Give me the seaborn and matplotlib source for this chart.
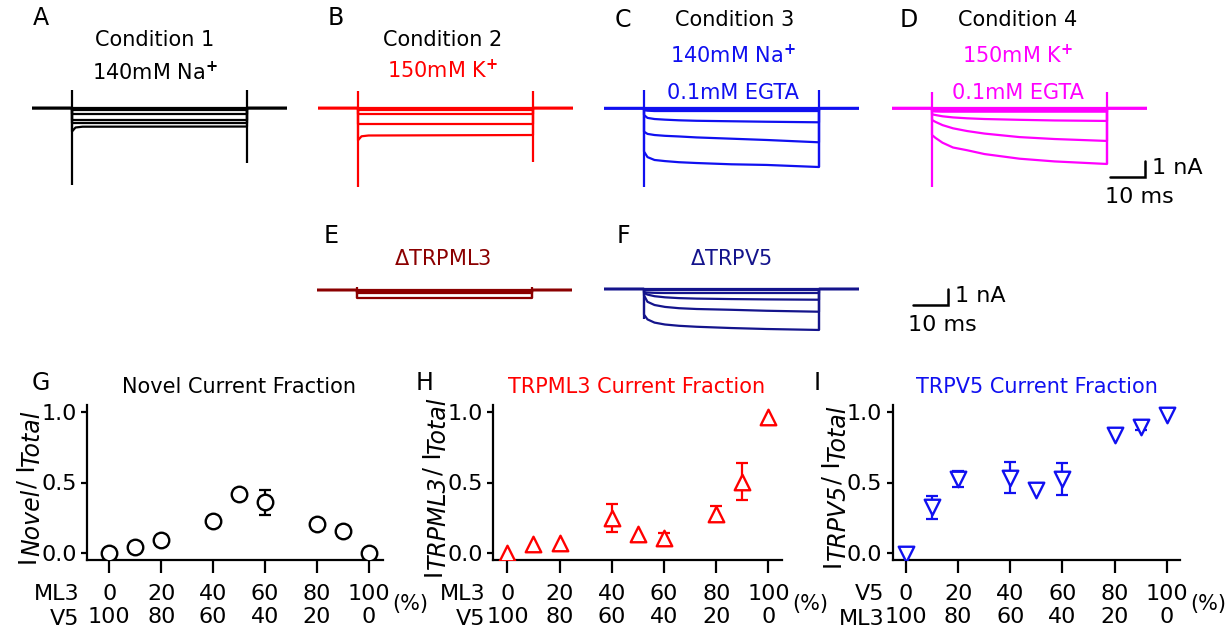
import matplotlib
matplotlib.use('Agg')
import matplotlib.pyplot as plt
import seaborn as sns

sns.set_theme(style='white')
plt.rcParams['font.family'] = ['DejaVu Sans']
plt.rcParams['mathtext.fontset'] = 'dejavusans'
plt.rcParams['text.color'] = 'black'
plt.rcParams['xtick.color'] = 'black'
plt.rcParams['ytick.color'] = 'black'

W, H = 1230, 634

# ---- current traces (nA), sampled at these times (ms) after pulse onset
t_pre, t_post = -11.4, 61.4
t_flat = [0, 1, 3, 50]
t_slow = [0, 1, 3, 6, 10, 15, 25, 35, 50]

cond1_traces = [
    [0.0, 0.0, 0.0, 0.0],
    [-0.06, -0.06, -0.06, -0.06],
    [-0.12, -0.12, -0.12, -0.12],
    [-0.37, -0.37, -0.37, -0.37],
    [-0.73, -0.73, -0.73, -0.73],
    [-0.94, -0.94, -0.94, -0.94],
    [-1.45, -1.2, -1.15, -1.14],
]
cond1_spikes = [(1.13, -4.8), (1.13, -3.4)]

cond2_traces = [
    [0.0, 0.0, 0.0, 0.0],
    [-0.06, -0.06, -0.06, -0.06],
    [-0.12, -0.12, -0.12, -0.12],
    [-0.36, -0.36, -0.36, -0.36],
    [-0.98, -0.98, -0.98, -0.98],
    [-2.0, -1.75, -1.7, -1.67],
]
cond2_spikes = [(1.08, -4.92), (1.08, -3.36)]

cond3_traces = [
    [0.0, 0.0, 0.0, 0.0, 0.0, 0.0, 0.0, 0.0, 0.0],
    [-0.06, -0.06, -0.06, -0.06, -0.06, -0.06, -0.06, -0.06, -0.06],
    [-0.12, -0.15, -0.17, -0.17, -0.17, -0.17, -0.17, -0.17, -0.17],
    [-0.42, -0.6, -0.67, -0.71, -0.75, -0.78, -0.81, -0.84, -0.875],
    [-1.46, -1.6, -1.67, -1.72, -1.76, -1.82, -1.9, -1.98, -2.125],
    [-2.7, -3.05, -3.23, -3.3, -3.37, -3.42, -3.5, -3.54, -3.67],
]
cond3_spikes = [(1.14, -4.92), (1.14, -3.67)]

cond4_traces = [
    [0.0, 0.0, 0.0, 0.0, 0.0, 0.0, 0.0, 0.0, 0.0],
    [-0.06, -0.06, -0.06, -0.06, -0.06, -0.06, -0.06, -0.06, -0.06],
    [-0.12, -0.12, -0.12, -0.12, -0.12, -0.12, -0.12, -0.12, -0.12],
    [-0.18, -0.2, -0.21, -0.21, -0.21, -0.21, -0.21, -0.21, -0.21],
    [-0.375, -0.42, -0.5, -0.57, -0.625, -0.67, -0.72, -0.76, -0.79],
    [-0.73, -0.85, -1.05, -1.25, -1.42, -1.58, -1.8, -1.92, -2.04],
    [-1.67, -1.85, -2.15, -2.45, -2.62, -2.86, -3.15, -3.32, -3.48],
]
cond4_spikes = [(1.02, -4.92), (1.02, -3.48)]

dml3_traces = [
    [0.0, 0.0, 0.0, 0.0],
    [-0.05, -0.05, -0.05, -0.05],
    [-0.1, -0.1, -0.1, -0.1],
    [-0.14, -0.14, -0.14, -0.14],
    [-0.17, -0.17, -0.17, -0.17],
    [-0.52, -0.52, -0.52, -0.52],
]
dml3_spikes = [(0.19, -0.52), (0.19, -0.52)]

dv5_traces = [
    [0.0, 0.0, 0.0, 0.0, 0.0, 0.0, 0.0, 0.0, 0.0],
    [-0.06, -0.06, -0.06, -0.06, -0.06, -0.06, -0.06, -0.06, -0.06],
    [-0.2, -0.22, -0.24, -0.25, -0.25, -0.25, -0.25, -0.25, -0.25],
    [-0.25, -0.35, -0.45, -0.52, -0.57, -0.6, -0.63, -0.65, -0.67],
    [-0.4, -0.8, -1.0, -1.12, -1.2, -1.25, -1.3, -1.36, -1.42],
    [-1.6, -1.9, -2.1, -2.22, -2.3, -2.36, -2.44, -2.5, -2.56],
]
dv5_spikes = [(0.0, -1.9), (0.0, -2.56)]

# ---- current fractions vs. mixing ratio (%)
mix_pct = [0, 10, 20, 40, 50, 60, 80, 90, 100]
novel_frac = [0.0, 0.047, 0.094, 0.228, 0.419, 0.36, 0.205, 0.16, 0.0]
novel_err = [0, 0, 0, 0, 0, 0.09, 0, 0.03, 0]
trpml3_frac = [0.0, 0.064, 0.07, 0.25, 0.136, 0.106, 0.28, 0.506, 0.96]
trpml3_err = [0, 0, 0, 0.1, 0, 0.035, 0.055, 0.13, 0]
trpv5_frac = [-0.005, 0.325, 0.525, 0.534, 0.447, 0.525, 0.835, 0.894, 0.976]
trpv5_err = [0, 0.08, 0.055, 0.11, 0, 0.115, 0, 0.02, 0]
tick_pct = [0, 20, 40, 60, 80, 100]
tick_pct_rev = [100, 80, 60, 40, 20, 0]

fig = plt.figure(figsize=(W / 100, H / 100), dpi=100)
FS = 15
TICK_FS = 16
LW = 1.6
PX_MS, PX_NA = 3.5, 16
Y_TOP, Y_BOT = 1.4, -5.6


def ftext(x, y, s, **kw):
    kw.setdefault('fontsize', FS)
    kw.setdefault('ha', 'center')
    kw.setdefault('va', 'center')
    return fig.text(x / W, 1 - y / H, s, **kw)


def trace_axes(on_px, base_px):
    left = on_px + t_pre * PX_MS
    width = (t_post - t_pre) * PX_MS
    top = base_px - Y_TOP * PX_NA
    height = (Y_TOP - Y_BOT) * PX_NA
    ax = fig.add_axes([left / W, 1 - (top + height) / H, width / W, height / H])
    ax.set_xlim(t_pre, t_post)
    ax.set_ylim(Y_BOT, Y_TOP)
    ax.axis('off')
    return ax


def draw_traces(ax, times, traces, spikes, color):
    for vals in traces:
        t = [t_pre, 0] + list(times) + [times[-1], t_post]
        y = [0, 0] + list(vals) + [0, 0]
        sns.lineplot(x=t, y=y, ax=ax, color=color, lw=LW, sort=False,
                     estimator=None, legend=False)
    (on_top, on_bot), (off_top, off_bot) = spikes
    ax.vlines([0, times[-1]], [on_bot, off_bot], [on_top, off_top],
              color=color, lw=LW)


def scale_bar(ax, t0, y0):
    ax.plot([t0, t0 + 10, t0 + 10], [y0, y0, y0 + 1], color='black',
            lw=1.8, clip_on=False, solid_joinstyle='miter')
    ax.text(t0 + 12.0, y0 + 0.55, '1 nA', fontsize=FS + 1, ha='left', va='center')
    ax.text(t0 - 1.5, y0 - 1.25, '10 ms', fontsize=FS + 1, ha='left', va='center')


def stacked_label(xc, yc, parts, fontsize=17, sub_shift=5):
    # rotated label with full-size, lowered subscripts
    renderer = fig.canvas.get_renderer()
    texts = []
    for s, is_sub in parts:
        t = fig.text(0, 0, s, rotation=90, fontsize=fontsize, ha='left', va='bottom',
                     style='italic' if is_sub else 'normal')
        texts.append((t, is_sub))
    lengths = [t.get_window_extent(renderer).height for t, _ in texts]
    y = yc + sum(lengths) / 2
    for (t, is_sub), length in zip(texts, lengths):
        x = xc + (sub_shift if is_sub else 0)
        t.set_position((x / W, 1 - y / H))
        y -= length


axA = trace_axes(72, 108.3)
draw_traces(axA, t_flat, cond1_traces, cond1_spikes, 'black')
axB = trace_axes(358, 108.3)
draw_traces(axB, t_flat, cond2_traces, cond2_spikes, '#ff0000')
axC = trace_axes(644, 108.3)
draw_traces(axC, t_slow, cond3_traces, cond3_spikes, '#1010f0')
axD = trace_axes(932, 108.3)
draw_traces(axD, t_slow, cond4_traces, cond4_spikes, '#ff00ff')
scale_bar(axD, 50.9, -4.29)
axE = trace_axes(357, 290)
draw_traces(axE, t_flat, dml3_traces, dml3_spikes, '#8b0000')
axF = trace_axes(644, 289)
draw_traces(axF, t_slow, dv5_traces, dv5_spikes, '#14148c')
scale_bar(axF, 76.9, -1.0)

# panel letters and condition labels
for letter, x, y in [('A', 41, 18), ('B', 336, 18), ('C', 623, 20), ('D', 909, 20),
                     ('E', 331, 236), ('F', 623, 236),
                     ('G', 41, 383), ('H', 425, 383), ('I', 817, 383)]:
    ftext(x, y, letter, fontsize=17)

ftext(155, 40, 'Condition 1')
ftext(155, 72, r'140mM Na$^{\mathbf{+}}$')
ftext(443, 40, 'Condition 2')
ftext(443, 70, r'150mM K$^{\mathbf{+}}$', color='#ff0000')
ftext(735, 20, 'Condition 3')
ftext(733, 55, r'140mM Na$^{\mathbf{+}}$', color='#1010f0')
ftext(733, 93, '0.1mM EGTA', color='#1010f0')
ftext(1018, 20, 'Condition 4')
ftext(1018, 55, r'150mM K$^{\mathbf{+}}$', color='#ff00ff')
ftext(1018, 93, '0.1mM EGTA', color='#ff00ff')
ftext(443, 259, r'$\Delta$TRPML3', color='#8b0000')
ftext(731, 259, r'$\Delta$TRPV5', color='#14148c')


def fraction_panel(left, right, xlim, vals, errs, marker, color, sub,
                   row_names, rows, pct_x):
    top, bottom = 405, 560
    ax = fig.add_axes([left / W, 1 - bottom / H, (right - left) / W, (bottom - top) / H])
    xe = [x for x, e in zip(mix_pct, errs) if e > 0]
    ye = [v for v, e in zip(vals, errs) if e > 0]
    ee = [e for e in errs if e > 0]
    ax.errorbar(xe, ye, yerr=ee, fmt='none', ecolor=color, elinewidth=1.6,
                capsize=4, capthick=1.6, zorder=2)
    sns.scatterplot(x=mix_pct, y=vals, ax=ax, marker=marker, s=125,
                    facecolor='white', edgecolor=color, linewidth=1.7,
                    zorder=3, legend=False)
    ax.set_xlim(*xlim)
    ax.set_ylim(-0.047, 1.047)
    ax.set_xticks(tick_pct)
    ax.set_xticklabels([f'{a}\n{b}' for a, b in zip(*rows)])
    ax.set_yticks([0, 0.5, 1.0])
    ax.set_yticklabels(['0.0', '0.5', '1.0'])
    ax.tick_params(axis='x', bottom=True, length=9, width=1.6, pad=8,
                   labelsize=TICK_FS)
    ax.tick_params(axis='y', left=True, length=4.5, width=1.6, pad=3,
                   labelsize=TICK_FS)
    for side in ['top', 'right']:
        ax.spines[side].set_visible(False)
    for side in ['left', 'bottom']:
        ax.spines[side].set_linewidth(1.6)
        ax.spines[side].set_color('black')
    ax.set_xlabel('')
    ax.set_ylabel('')
    ftext(left - 8, 594, row_names[0], ha='right', fontsize=TICK_FS)
    ftext(left - 8, 619, row_names[1], ha='right', fontsize=TICK_FS)
    ftext(pct_x, 604, '(%)', ha='left')
    stacked_label(left - 72, 486, [('I', False), (sub, True), ('/ I', False), ('Total', True)])
    return ax


fraction_panel(87.3, 383, (-8.5, 105.5), novel_frac, novel_err, 'o', 'black',
               'Novel', ('ML3', 'V5'), (tick_pct, tick_pct_rev), 392)
fraction_panel(493.3, 781.7, (-5.4, 105.1), trpml3_frac, trpml3_err, '^', '#ff0000',
               'TRPML3', ('ML3', 'V5'), (tick_pct, tick_pct_rev), 792)
fraction_panel(892.7, 1180, (-5.1, 105.1), trpv5_frac, trpv5_err, 'v', '#1010f0',
               'TRPV5', ('V5', 'ML3'), (tick_pct, tick_pct_rev), 1190)

ftext(239, 387, 'Novel Current Fraction')
ftext(637, 387, 'TRPML3 Current Fraction', color='#ff0000')
ftext(1037, 387, 'TRPV5 Current Fraction', color='#1010f0')

fig.savefig('out.png', dpi=100)
